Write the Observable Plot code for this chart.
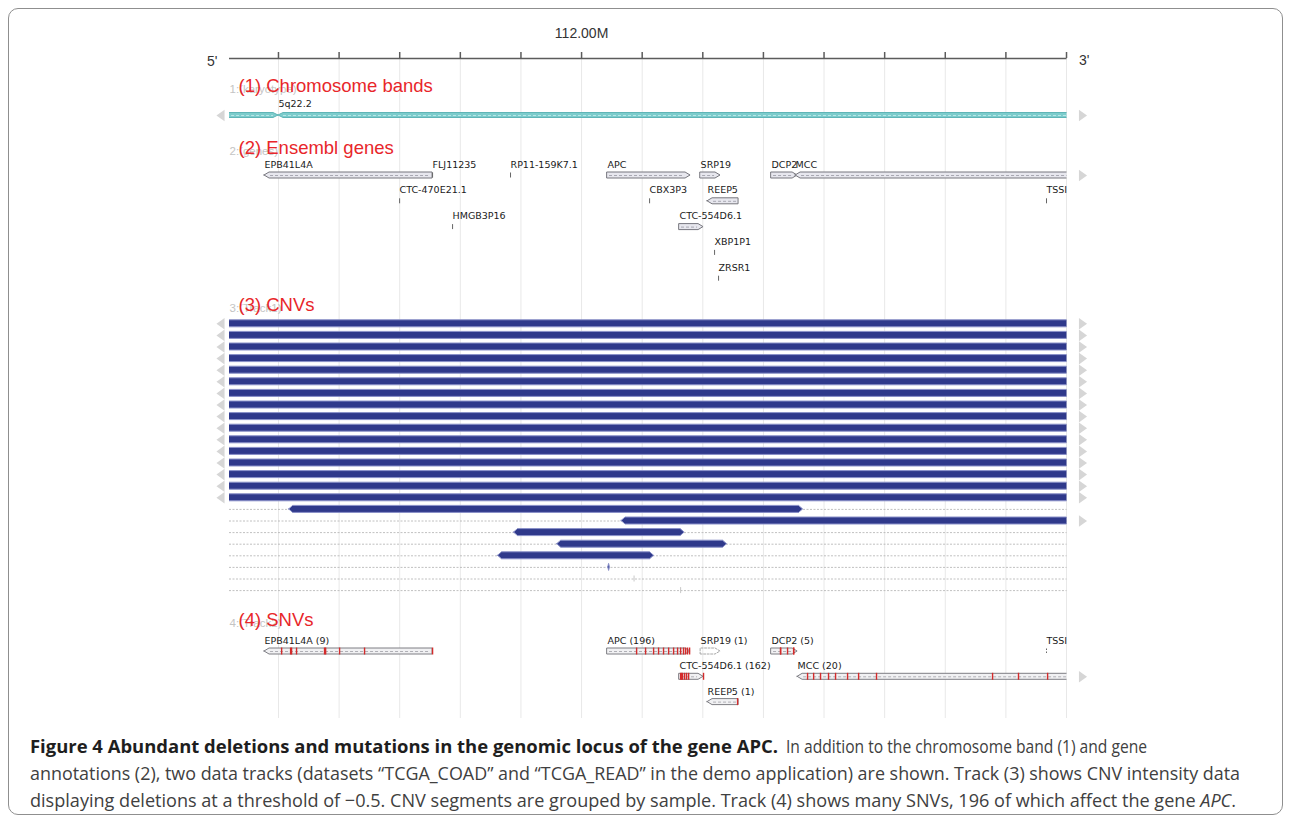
<!DOCTYPE html>
<html>
<head>
<meta charset="utf-8">
<script src="https://cdn.jsdelivr.net/npm/d3@7"></script>
<script src="https://cdn.jsdelivr.net/npm/@observablehq/plot@0.6"></script>
<style>
  html, body { margin: 0; padding: 0; background: #fff; }
  body { width: 1290px; height: 822px; overflow: hidden; position: relative; font-family: "Liberation Sans", Arial, sans-serif; }
  #frame { position: absolute; left: 8px; top: 8px; width: 1275px; height: 807px; border: 1px solid #8f8f8f; border-radius: 10px; box-sizing: border-box; }
  #chart { position: absolute; left: 0; top: 0; }
  #caption { position: absolute; left: 0; top: 0; font-family: "Open Sans", "Noto Sans", sans-serif; font-size: 18.5px; color: #404040; }
  #caption .seg { position: absolute; white-space: nowrap; transform-origin: 0 50%; line-height: 27px; }
  #caption b { color: #1e1e1e; }
</style>
</head>
<body>
<div id="frame"></div>
<div id="chart"></div>
<div id="caption"></div>
<script>
// ---------------- DATA (genomic positions in Mb, chr5) ----------------
const viewStart = 111.7096, viewEnd = 112.4004;
const axisTicks = [111.75, 111.80, 111.85, 111.90, 111.95, 112.00, 112.05, 112.10, 112.15, 112.20, 112.25, 112.30, 112.35, 112.40];
const labeledTicks = [112.00];
const strandEnds = ["5'", "3'"];

const trackIds = ["1:(karyotype)", "2:(genes)", "3:(Track1)", "4:(Track2)"];
const trackTitles = ["(1) Chromosome bands", "(2) Ensembl genes", "(3) CNVs", "(4) SNVs"];

const bandNames = ["5q22.1", "5q22.2"];
const bandStart = [111.6000, 111.7500];
const bandEnd = [111.7500, 112.5000];
const bandLabeled = [false, true];

const geneNames = ["EPB41L4A", "FLJ11235", "RP11-159K7.1", "APC", "SRP19", "DCP2", "MCC", "CTC-470E21.1", "CBX3P3", "REEP5", "TSSI", "HMGB3P16", "CTC-554D6.1", "XBP1P1", "ZRSR1"];
const geneStart = [111.7385, 111.8771, 111.9414, 112.0214, 112.0982, 112.1567, 112.1765, 111.8499, 112.0561, 112.1039, 112.3835, 111.8936, 112.0808, 112.1097, 112.1130];
const geneEnd = [111.8771, 111.8773, 111.9416, 112.0899, 112.1146, 112.1782, 112.5200, 111.8501, 112.0563, 112.1295, 112.3837, 111.8938, 112.1006, 112.1099, 112.1132];
const geneStrand = [-1, 1, 1, 1, 1, 1, -1, 1, 1, -1, 1, -1, 1, 1, 1];
const geneLane = [0, 0, 0, 0, 0, 0, 0, 1, 1, 1, 1, 2, 2, 3, 4];

// CNV deletion segments, one per sample row
const cnvStart = [111.6500, 111.6500, 111.6500, 111.6500, 111.6500, 111.6500, 111.6500, 111.6500,
                  111.6500, 111.6500, 111.6500, 111.6500, 111.6500, 111.6500, 111.6500, 111.6500,
                  111.7588, 112.0330, 111.9443, 111.9799, 111.9311, 112.0220, 112.0433, 112.0817];
const cnvEnd = [112.4500, 112.4500, 112.4500, 112.4500, 112.4500, 112.4500, 112.4500, 112.4500,
                112.4500, 112.4500, 112.4500, 112.4500, 112.4500, 112.4500, 112.4500, 112.4500,
                112.1827, 112.4500, 112.0850, 112.1200, 112.0598, 112.0234, 112.0433, 112.0817];

// SNV-affected genes
const snvGeneNames = ["EPB41L4A", "APC", "SRP19", "DCP2", "TSSI", "CTC-554D6.1", "MCC", "REEP5"];
const snvGeneCounts = [9, 196, 1, 5, null, 162, 20, 1];
const snvGeneStart = [111.7385, 112.0214, 112.0982, 112.1567, 112.3835, 112.0808, 112.1782, 112.1039];
const snvGeneEnd = [111.8771, 112.0899, 112.1146, 112.1782, 112.3837, 112.1006, 112.5200, 112.1295];
const snvGeneStrand = [-1, 1, 1, 1, 1, 1, -1, -1];
const snvGeneLane = [0, 0, 0, 0, 0, 1, 1, 2];
const snvGeneMuted = [false, false, true, false, false, false, false, false];

// individual SNVs (gene index, position)
const snvGeneIndex = [0,0,0,0,0,0,0,0,0,
                      1,1,1,1,1,1,1,1,1,1,1,1,1,
                      3,3,3,3,3,
                      5,5,5,5,5,5,5,
                      6,6,6,6,6,6,6,6,6,6,6,
                      7];
const snvPos = [111.7526, 111.7600, 111.7608, 111.7649, 111.7880, 111.7889, 111.8004, 111.8210, 111.8771,
                112.0454, 112.0528, 112.0594, 112.0635, 112.0676, 112.0718, 112.0759, 112.0792, 112.0817, 112.0841, 112.0858, 112.0874, 112.0891,
                112.1641, 112.1642, 112.1699, 112.1749, 112.1750,
                112.0817, 112.0825, 112.0833, 112.0850, 112.0866, 112.0883, 112.1006,
                112.1864, 112.1914, 112.1971, 112.2037, 112.2095, 112.2194, 112.2285, 112.2433, 112.3390, 112.3604, 112.3844,
                112.1287];

// caption text segments
const captionBold = "Figure 4 Abundant deletions and mutations in the genomic locus of the gene APC.";
const captionLine1 = "In addition to the chromosome band (1) and gene";
const captionLine2 = "annotations (2), two data tracks (datasets “TCGA_COAD” and “TCGA_READ” in the demo application) are shown. Track (3) shows CNV intensity data";
const captionLine3 = "displaying deletions at a threshold of −0.5. CNV segments are grouped by sample. Track (4) shows many SNVs, 196 of which affect the gene ";
const captionItalic = "APC";

// ---------------- LAYOUT ----------------
const W = 1290, H = 725, L = 229, R = 1066.5;
const AXIS_Y = 58, GRID_END = 718;
const TITLE_Y = [86, 147.5, 305, 619.5];
const BAND_Y = 115, BAND_H = 5;
const GENE_Y0 = 175, GENE_DY = 25.8, GENE_H = 6, TIP = 5;
const CNV_Y0 = 323.3, CNV_DY = 11.6, CNV_H = 7;
const SNV_Y0 = 651, SNV_DY = 25.3;
const kPerPx = (viewEnd - viewStart) / (R - L);

function shapePts(id, s, e, yc, h, tl, tr) {
  let a = tl * kPerPx, b = tr * kPerPx;
  const w = e - s;
  if (a + b > w) { const f = w / (a + b); a *= f; b *= f; }
  const pts = [];
  if (tl > 0) { pts.push({id, x: s, y1: yc, y2: yc}); pts.push({id, x: s + a, y1: yc - h/2, y2: yc + h/2}); }
  else pts.push({id, x: s, y1: yc - h/2, y2: yc + h/2});
  if (tr > 0) { pts.push({id, x: e - b, y1: yc - h/2, y2: yc + h/2}); pts.push({id, x: e, y1: yc, y2: yc}); }
  else pts.push({id, x: e, y1: yc - h/2, y2: yc + h/2});
  return pts;
}
const isTiny = (s, e) => (e - s) / kPerPx < 2;

const bands = bandNames.map((name, i) => ({name, s: bandStart[i], e: bandEnd[i], labeled: bandLabeled[i], y: BAND_Y}));
const bandShapes = bands.flatMap((b, i) => shapePts("b" + i, b.s, b.e, b.y, BAND_H, 5, 5));

const genes = geneNames.map((name, i) => ({name, s: geneStart[i], e: geneEnd[i], strand: geneStrand[i], y: GENE_Y0 + geneLane[i] * GENE_DY}));
const bigGenes = genes.filter(g => !isTiny(g.s, g.e));
const tinyGenes = genes.filter(g => isTiny(g.s, g.e));
const geneShapes = bigGenes.flatMap((g, i) => shapePts("g" + i, g.s, g.e, g.y, GENE_H, g.strand < 0 ? TIP : 0, g.strand > 0 ? TIP : 0));

const cnvs = cnvStart.map((s, i) => ({row: i, s, e: cnvEnd[i], y: CNV_Y0 + i * CNV_DY}));
const cnvBig = cnvs.filter(c => c.e > c.s);
const cnvTiny = cnvs.filter(c => c.e <= c.s);
const cnvPartial = cnvs.filter(c => c.s > viewStart || c.e < viewEnd);
const cnvShapes = cnvBig.flatMap(c => shapePts("c" + c.row, c.s, c.e, c.y, CNV_H, 4, 4));

const sgenes = snvGeneNames.map((name, i) => ({name, count: snvGeneCounts[i], s: snvGeneStart[i], e: snvGeneEnd[i], strand: snvGeneStrand[i], muted: snvGeneMuted[i], y: SNV_Y0 + snvGeneLane[i] * SNV_DY}));
const sBig = sgenes.filter(g => !isTiny(g.s, g.e));
const sTiny = sgenes.filter(g => isTiny(g.s, g.e));
const sShapes = sBig.filter(g => !g.muted).flatMap(g => shapePts("s" + g.name, g.s, g.e, g.y, GENE_H, g.strand < 0 ? TIP : 0, g.strand > 0 ? TIP : 0));
const sShapesMuted = sBig.filter(g => g.muted).flatMap(g => shapePts("m" + g.name, g.s, g.e, g.y, GENE_H, g.strand < 0 ? TIP : 0, g.strand > 0 ? TIP : 0));
const snvs = snvPos.map((p, i) => ({pos: p, y: sgenes[snvGeneIndex[i]].y}));

const allRows = [...bands, ...genes, ...cnvs, ...sgenes];
const leftRows = [...new Set(allRows.filter(r => r.s < viewStart).map(r => r.y))];
const rightRows = [...new Set(allRows.filter(r => r.e > viewEnd).map(r => r.y))];

const leftTri = {draw(ctx, size) { const r = Math.sqrt(size / Math.PI); ctx.moveTo(-r * 0.7, 0); ctx.lineTo(r * 0.7, -r); ctx.lineTo(r * 0.7, r); ctx.closePath(); }};
const rightTri = {draw(ctx, size) { const r = Math.sqrt(size / Math.PI); ctx.moveTo(r * 0.7, 0); ctx.lineTo(-r * 0.7, -r); ctx.lineTo(-r * 0.7, r); ctx.closePath(); }};

const F = "Liberation Sans, Arial, sans-serif";
const GF = "DejaVu Sans, Verdana, sans-serif";

const chart = Plot.plot({
  width: W, height: H,
  marginLeft: L, marginRight: W - R, marginTop: 0, marginBottom: 0,
  x: {domain: [viewStart, viewEnd], axis: null},
  y: {domain: [0, H], range: [0, H], axis: null},
  style: {fontFamily: F, background: "none", overflow: "visible"},
  marks: [
    Plot.ruleX(axisTicks, {x: d => d, y1: () => AXIS_Y, y2: () => GRID_END, stroke: "#e8e8e8", strokeWidth: 1}),
    Plot.ruleY([AXIS_Y], {y: d => d, x1: () => viewStart, x2: () => viewEnd, stroke: "#5c5c5c", strokeWidth: 1.5}),
    Plot.ruleX(axisTicks, {x: d => d, y1: () => AXIS_Y - 6, y2: () => AXIS_Y, stroke: "#5c5c5c", strokeWidth: 1.5}),
    Plot.text(labeledTicks, {x: d => d, y: () => 33, text: d => d.toFixed(2) + "M", fontSize: 14, fill: "#333"}),
    Plot.text([strandEnds[0]], {x: () => viewStart, y: () => 61, dx: -12, text: d => d, textAnchor: "end", fontSize: 14, fill: "#333"}),
    Plot.text([strandEnds[1]], {x: () => viewEnd, y: () => 60, dx: 12, text: d => d, textAnchor: "start", fontSize: 14, fill: "#333"}),

    Plot.dot(leftRows, {x: () => viewStart, y: d => d, dx: -9, r: 5.8, symbol: leftTri, fill: "#d6d6d6"}),
    Plot.dot(rightRows, {x: () => viewEnd, y: d => d, dx: 16, r: 5.8, symbol: rightTri, fill: "#d6d6d6"}),

    Plot.text(trackIds, {x: () => viewStart, y: (d, i) => TITLE_Y[i] + 3, text: d => d, textAnchor: "start", fontSize: 11.5, fill: "#c4c4c4"}),
    Plot.text(trackTitles, {x: () => viewStart, y: (d, i) => TITLE_Y[i], dx: 9, text: d => d, textAnchor: "start", fontSize: 18.5, fill: "#e8262a"}),

    Plot.area(bandShapes, {x1: "x", y1: "y1", y2: "y2", z: "id", curve: "linear", fill: "#7ccccc", stroke: "#5fb4b6", strokeWidth: 1, clip: true}),
    Plot.ruleY(bands, {y: "y", x1: d => d.s + 5 * kPerPx, x2: d => d.e - 5 * kPerPx, stroke: "#b9e6e6", strokeDasharray: "3,2", strokeWidth: 1, clip: true}),
    Plot.text(bands.filter(b => b.labeled), {x: "s", y: d => d.y - 11.5, text: "name", textAnchor: "start", fontSize: 9.5, fontFamily: GF, fill: "#222"}),

    Plot.area(geneShapes, {x1: "x", y1: "y1", y2: "y2", z: "id", curve: "linear", fill: "#e7e7ee", stroke: "#77777e", strokeWidth: 1, clip: true}),
    Plot.ruleY(bigGenes, {y: "y", x1: d => d.s + (d.strand < 0 ? TIP + 1 : 2) * kPerPx, x2: d => d.e - (d.strand > 0 ? TIP + 1 : 2) * kPerPx, stroke: "#a8a8b2", strokeDasharray: "3,2", strokeWidth: 1, clip: true}),
    Plot.ruleX(tinyGenes, {x: "s", y1: d => d.y - 2.5, y2: d => d.y + 2.5, stroke: "#666", strokeWidth: 1}),
    Plot.text(genes, {x: "s", y: d => d.y - 11, text: "name", textAnchor: "start", fontSize: 9.5, fontFamily: GF, fill: "#1a1a1a"}),

    Plot.ruleY(cnvPartial, {y: "y", x1: () => viewStart, x2: () => viewEnd, stroke: "#b0b0b0", strokeDasharray: "2,1.5", strokeWidth: 0.8}),
    Plot.area(cnvShapes, {x1: "x", y1: "y1", y2: "y2", z: "id", curve: "linear", fill: "#2f398b", stroke: "#8a91c9", strokeWidth: 1, clip: true}),
    Plot.ruleX(cnvTiny, {x: "s", y1: d => d.y - 3, y2: d => d.y + 3, stroke: "#c8c8c8", strokeWidth: 1}),

    Plot.area(sShapes, {x1: "x", y1: "y1", y2: "y2", z: "id", curve: "linear", fill: "#f1f1f3", stroke: "#7e7e84", strokeWidth: 1, clip: true}),
    Plot.area(sShapesMuted, {x1: "x", y1: "y1", y2: "y2", z: "id", curve: "linear", fill: "none", stroke: "#a8a8a8", strokeDasharray: "2,1.5", strokeWidth: 1, clip: true}),
    Plot.ruleY(sBig.filter(g => !g.muted), {y: "y", x1: d => d.s + (d.strand < 0 ? TIP + 1 : 2) * kPerPx, x2: d => d.e - (d.strand > 0 ? TIP + 1 : 2) * kPerPx, stroke: "#b0b0b6", strokeDasharray: "3,2", strokeWidth: 1, clip: true}),
    Plot.ruleX(sTiny, {x: "s", y1: d => d.y - 2.5, y2: d => d.y + 2.5, stroke: "#666", strokeWidth: 1, strokeDasharray: "1.5,1.5"}),
    Plot.ruleX(snvs, {x: "pos", y1: d => d.y - 3.5, y2: d => d.y + 3.5, stroke: "#d42b2b", strokeWidth: 1.4, clip: true}),
    Plot.text(sgenes, {x: "s", y: d => d.y - 10.5, text: d => d.count == null ? d.name : `${d.name} (${d.count})`, textAnchor: "start", fontSize: 9.5, fontFamily: GF, fill: "#1a1a1a"})
  ]
});
document.getElementById("chart").appendChild(chart);

// caption: segments positioned and fitted to the reference's widths
const segs = [
  {html: `<b>${captionBold}</b>`, left: 30, y: 745, width: 748},
  {html: captionLine1, left: 786, y: 745, width: 361},
  {html: captionLine2, left: 30, y: 772, width: 1210},
  {html: captionLine3 + `<i>${captionItalic}</i>.`, left: 30, y: 799, width: 1206}
];
const cap = document.getElementById("caption");
const segEls = segs.map(s => {
  const d = document.createElement("div");
  d.className = "seg";
  d.style.left = s.left + "px";
  d.style.top = (s.y - 13.5) + "px";
  d.innerHTML = `<span>${s.html}</span>`;
  cap.appendChild(d);
  return d;
});
function fitCaption() {
  segEls.forEach((el, i) => {
    el.style.transform = "none";
    const w = el.querySelector("span").getBoundingClientRect().width;
    el.style.transform = `scaleX(${segs[i].width / w})`;
  });
}
fitCaption();
if (document.fonts && document.fonts.ready) document.fonts.ready.then(fitCaption);
</script>
</body>
</html>
